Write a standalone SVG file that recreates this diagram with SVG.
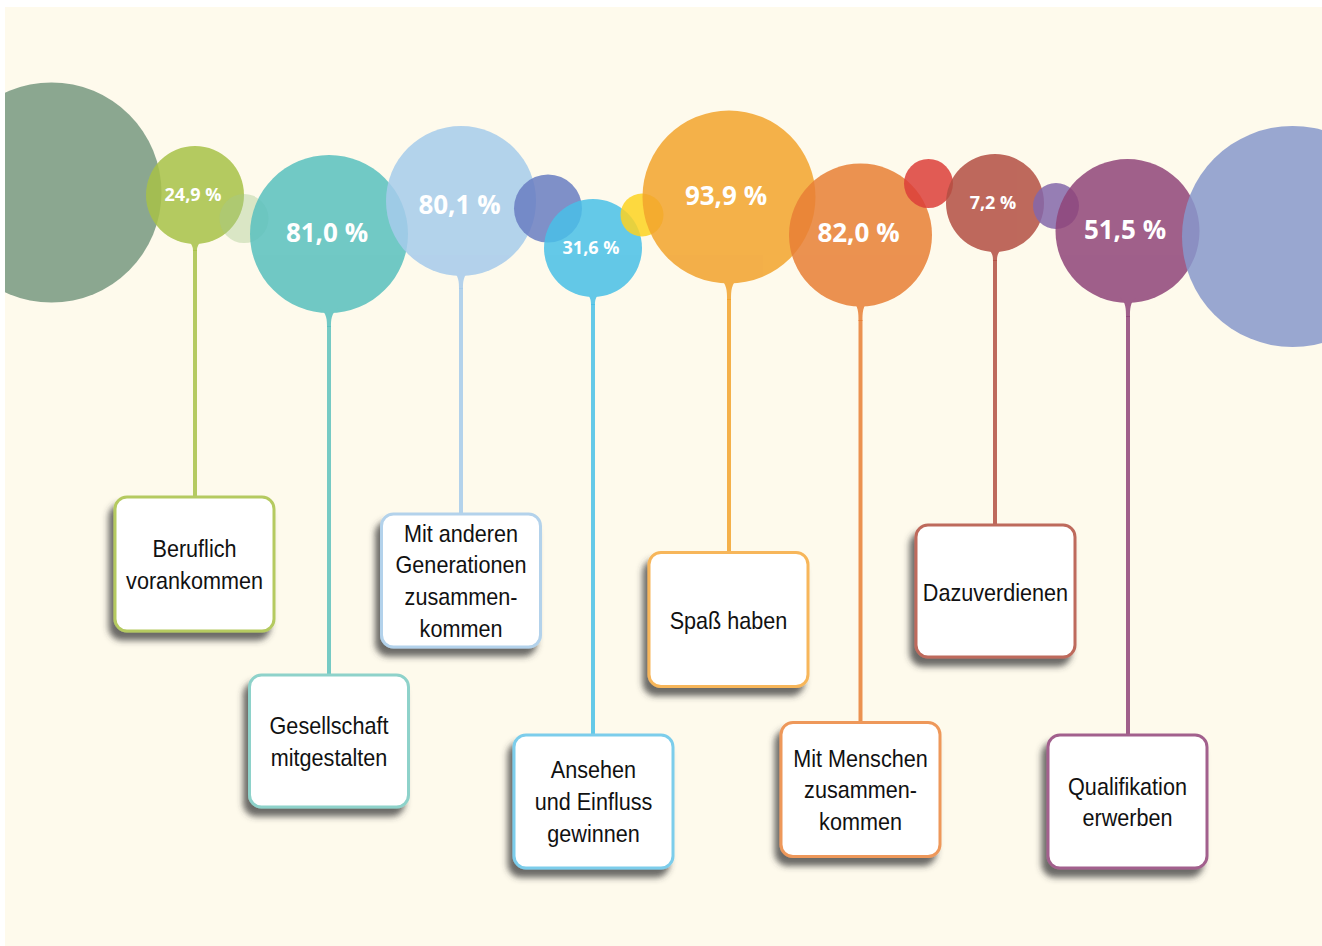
<svg xmlns="http://www.w3.org/2000/svg" width="1322" height="946" viewBox="0 0 1322 946">
<defs>
<style>
.pct{font-family:"Open Sans","Noto Sans",sans-serif;font-weight:700;fill:#ffffff;text-anchor:middle}
.big{font-size:26px}
.sm{font-size:18px}
.lbl{font-family:"Liberation Sans",Arial,sans-serif;font-size:24px;fill:#111111;text-anchor:middle}
.box{fill:#ffffff;stroke-width:3}
.stem{stroke-width:4;fill:none}
.b{opacity:0.85}
</style>
<clipPath id="bg"><rect x="5" y="7" width="1317" height="939"/></clipPath>
<filter id="sh" x="-20%" y="-20%" width="140%" height="150%">
<feGaussianBlur in="SourceAlpha" stdDeviation="3"/>
<feOffset dx="-5" dy="8" result="b"/>
<feFlood flood-color="#3a3a3a" flood-opacity="0.75"/>
<feComposite in2="b" operator="in"/>
<feMerge><feMergeNode/><feMergeNode in="SourceGraphic"/></feMerge>
</filter>
</defs>
<rect x="0" y="0" width="1322" height="946" fill="#ffffff"/>
<rect x="5" y="7" width="1317" height="939" fill="#FEFAEC"/>

<g id="connectors">
<line class="stem" x1="195" y1="250" x2="195" y2="497" stroke="#B5CA61"/>
<line class="stem" x1="329" y1="326" x2="329" y2="675" stroke="#76CAC4"/>
<line class="stem" x1="461" y1="288" x2="461" y2="514" stroke="#B3D2EB"/>
<line class="stem" x1="593" y1="304" x2="593" y2="735" stroke="#64C9E8"/>
<line class="stem" x1="729" y1="299" x2="729" y2="552.5" stroke="#F4B04A"/>
<line class="stem" x1="860.5" y1="320" x2="860.5" y2="722.5" stroke="#EB9150"/>
<line class="stem" x1="995" y1="260" x2="995" y2="525" stroke="#BE695C"/>
<line class="stem" x1="1128" y1="316" x2="1128" y2="735" stroke="#A05F8A"/>
</g>

<g id="bubbles" clip-path="url(#bg)">
<g id="bubble-deco-1" class="b"><circle cx="51.5" cy="192.5" r="110" fill="#779880"/></g>
<g id="bubble-beruflich" class="b" fill="#A8C248">
<circle cx="195" cy="195" r="49"/>
<path d="M188,240 C193,246 193,248 193,251 L197,251 C197,248 197,246 202,240 Z"/>
</g>
<g id="bubble-deco-2"><circle cx="244" cy="218.5" r="24.5" fill="#A5C88C" opacity="0.4"/></g>
<g id="bubble-gesellschaft" class="b" fill="#58C0BE">
<circle cx="329" cy="234" r="79"/>
<path d="M320,308 C327,314 327,320 327,327 L331,327 C331,320 331,314 338,308 Z"/>
</g>
<g id="bubble-generationen" class="b" fill="#A6CBEB">
<circle cx="461" cy="201" r="75"/>
<path d="M452,270 C459,276 459,282 459,289 L463,289 C463,282 463,276 470,270 Z"/>
</g>
<g id="bubble-deco-3" class="b"><circle cx="548" cy="208.5" r="34" fill="#697CC2"/></g>
<g id="bubble-ansehen" class="b" fill="#49C0E7">
<circle cx="593" cy="248" r="49"/>
<path d="M586,292 C591,298 591,301 591,305 L595,305 C595,301 595,298 600,292 Z"/>
</g>
<g id="bubble-deco-4" class="b"><circle cx="642" cy="215" r="21.5" fill="#FDD221"/></g>
<g id="bubble-spass" class="b" fill="#F2A32D">
<circle cx="729" cy="197" r="86.5"/>
<path d="M719,277 C727,284 727,291 727,300 L731,300 C731,291 731,284 739,277 Z"/>
</g>
<g id="bubble-menschen" class="b" fill="#E87F35">
<circle cx="860.5" cy="235" r="71.5"/>
<path d="M852,300 C858.5,306 858.5,313 858.5,321 L862.5,321 C862.5,313 862.5,306 869,300 Z"/>
</g>
<g id="bubble-deco-5" class="b"><circle cx="928.5" cy="183.5" r="24.5" fill="#DC3E3A"/></g>
<g id="bubble-dazuverdienen" class="b" fill="#B34F43">
<circle cx="995" cy="203" r="49"/>
<path d="M988,248 C993,254 993,257 993,261 L997,261 C997,257 997,254 1002,248 Z"/>
</g>
<g id="bubble-deco-6" class="b"><circle cx="1056" cy="206" r="23" fill="#8467AA"/></g>
<g id="bubble-qualifikation" class="b" fill="#8F4479">
<circle cx="1127.5" cy="231" r="72"/>
<path d="M1120,297 C1126,303 1126,309 1126,317 L1130,317 C1130,309 1130,303 1136,297 Z"/>
</g>
<g id="bubble-deco-7" class="b"><circle cx="1292.5" cy="236.5" r="110.5" fill="#8798CB"/></g>
<text class="pct sm" x="193" y="200.5">24,9 %</text>
<text class="pct big" x="327" y="241.5">81,0 %</text>
<text class="pct big" x="459.5" y="214">80,1 %</text>
<text class="pct sm" x="591" y="253.5">31,6 %</text>
<text class="pct big" x="726" y="204.5">93,9 %</text>
<text class="pct big" x="858.5" y="241.5">82,0 %</text>
<text class="pct sm" x="993" y="208.5">7,2 %</text>
<text class="pct big" x="1125" y="239">51,5 %</text>
</g>

<g id="node-beruflich">
<rect class="box" x="115" y="497" width="159" height="134" rx="12" stroke="#B5CA61" filter="url(#sh)"/>
<text class="lbl" transform="translate(194.5,557) scale(0.9,1)"><tspan x="0" y="0">Beruflich</tspan><tspan x="0" y="32.5">vorankommen</tspan></text>
</g>
<g id="node-gesellschaft">
<rect class="box" x="249.5" y="675" width="159" height="132" rx="12" stroke="#8ED2CA" filter="url(#sh)"/>
<text class="lbl" transform="translate(329,734) scale(0.9,1)"><tspan x="0" y="0">Gesellschaft</tspan><tspan x="0" y="32">mitgestalten</tspan></text>
</g>
<g id="node-generationen">
<rect class="box" x="381.5" y="514" width="159" height="133" rx="12" stroke="#B3D2EB" filter="url(#sh)"/>
<text class="lbl" transform="translate(461,541.5) scale(0.9,1)"><tspan x="0" y="0">Mit anderen</tspan><tspan x="0" y="32">Generationen</tspan><tspan x="0" y="64">zusammen-</tspan><tspan x="0" y="96">kommen</tspan></text>
</g>
<g id="node-ansehen">
<rect class="box" x="514" y="735" width="159" height="133" rx="12" stroke="#7CCDEB" filter="url(#sh)"/>
<text class="lbl" transform="translate(593.5,778) scale(0.9,1)"><tspan x="0" y="0">Ansehen</tspan><tspan x="0" y="32">und Einfluss</tspan><tspan x="0" y="64">gewinnen</tspan></text>
</g>
<g id="node-spass">
<rect class="box" x="649" y="552.5" width="159" height="134" rx="12" stroke="#F7B65A" filter="url(#sh)"/>
<text class="lbl" transform="translate(728.5,629) scale(0.9,1)">Spaß haben</text>
</g>
<g id="node-menschen">
<rect class="box" x="781" y="722.5" width="159" height="134" rx="12" stroke="#EE985A" filter="url(#sh)"/>
<text class="lbl" transform="translate(860.5,766.5) scale(0.9,1)"><tspan x="0" y="0">Mit Menschen</tspan><tspan x="0" y="32">zusammen-</tspan><tspan x="0" y="64">kommen</tspan></text>
</g>
<g id="node-dazuverdienen">
<rect class="box" x="916" y="525" width="159" height="132" rx="12" stroke="#BE6A5C" filter="url(#sh)"/>
<text class="lbl" transform="translate(995.5,600.5) scale(0.9,1)">Dazuverdienen</text>
</g>
<g id="node-qualifikation">
<rect class="box" x="1048" y="735" width="159" height="133" rx="12" stroke="#A2618D" filter="url(#sh)"/>
<text class="lbl" transform="translate(1127.5,795) scale(0.9,1)"><tspan x="0" y="0">Qualifikation</tspan><tspan x="0" y="31.5">erwerben</tspan></text>
</g>
</svg>
